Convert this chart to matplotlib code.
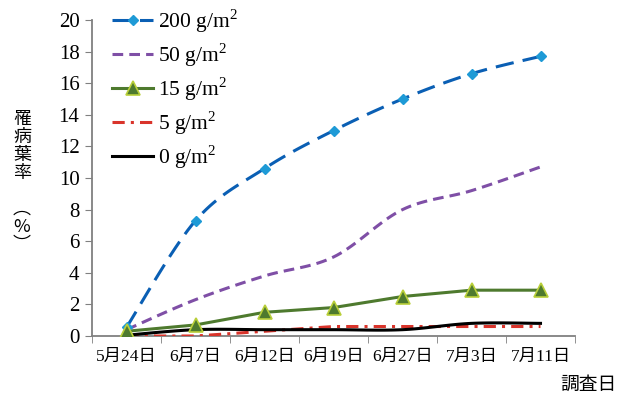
import numpy as np
import matplotlib
matplotlib.use("Agg")
import matplotlib.pyplot as plt
from matplotlib.lines import Line2D

plt.rcParams['font.family'] = ['Liberation Serif', 'Noto Sans CJK JP', 'DejaVu Sans']
plt.rcParams['mathtext.fontset'] = 'custom'
plt.rcParams['mathtext.rm'] = 'Liberation Serif'

dates = ['5月24日', '6月7日', '6月12日', '6月19日', '6月27日', '7月3日', '7月11日']
rate_200 = [0.55, 7.3, 10.6, 13.0, 15.0, 16.6, 17.7]
rate_50 = [0.4, 2.3, 3.8, 5.0, 8.0, 9.2, 10.7]
rate_15 = [0.3, 0.7, 1.5, 1.8, 2.5, 2.9, 2.9]
rate_5 = [0.0, 0.0, 0.3, 0.6, 0.6, 0.6, 0.6]
rate_0 = [0.05, 0.4, 0.4, 0.4, 0.4, 0.8, 0.8]
yticks = list(range(0, 21, 2))


def smooth(x, y, n=20):
    """Catmull-Rom style smoothed path through the points."""
    x = np.asarray(x, float)
    y = np.asarray(y, float)
    px = np.concatenate([[x[0]], x, [x[-1]]])
    py = np.concatenate([[y[0]], y, [y[-1]]])
    xs, ys = [], []
    for i in range(1, len(px) - 2):
        p0, p1, p2, p3 = (np.array([px[j], py[j]]) for j in (i - 1, i, i + 1, i + 2))
        c1 = p1 + (p2 - p0) / 6
        c2 = p2 - (p3 - p1) / 6
        t = np.linspace(0, 1, n)[:, None]
        pts = (1 - t) ** 3 * p1 + 3 * (1 - t) ** 2 * t * c1 + 3 * (1 - t) * t ** 2 * c2 + t ** 3 * p2
        xs.extend(pts[:, 0])
        ys.extend(pts[:, 1])
    return np.array(xs), np.array(ys)


fig = plt.figure(figsize=(6.28, 3.96), dpi=100)
ax = fig.add_axes([92 / 628, 60 / 396, (575 - 92) / 628, (336 - 20) / 396])

x = np.arange(len(dates))

series = [
    (rate_200, True, dict(color='#0a5fb4', lw=2.2, ls=(0, (6, 3))),
     dict(marker='D', ms=5, mfc='#1e9ad6', mec='#1e9ad6'), '200 g/m$^{2}$'),
    (rate_50, True, dict(color='#7f4fa6', lw=2.2, ls=(0, (3.5, 2))), None, '50 g/m$^{2}$'),
    (rate_15, False, dict(color='#4e7a2e', lw=2.2, ls='-'),
     dict(marker='^', ms=10, mfc='#4e7a2e', mec='#b9cf3a', mew=1.2), '15 g/m$^{2}$'),
    (rate_5, False, dict(color='#d9342b', lw=2.2, ls=(0, (4, 2, 1, 2))), None, '5 g/m$^{2}$'),
    (rate_0, True, dict(color='black', lw=2.2, ls='-'), None, '0 g/m$^{2}$'),
]

handles = []
for vals, curved, lstyle, mstyle, label in series:
    sx, sy = smooth(x, vals) if curved else (x, vals)
    ax.plot(sx, sy, zorder=3, **lstyle)
    if mstyle:
        ax.plot(x, vals, ls='none', zorder=4, **mstyle)
    h = Line2D([], [], **lstyle, **(mstyle or {}))
    handles.append((h, label))

ax.set_xlim(-0.5, len(dates) - 0.5)
ax.set_ylim(0, 20)
ax.set_yticks(yticks)
ax.set_yticklabels([str(v) for v in yticks], fontsize=15)
ax.set_xticks(x)
ax.set_xticklabels(dates, fontsize=12.5)
ax.set_xticks(np.arange(-0.5, len(dates)), minor=True)
ax.tick_params(axis='x', which='major', length=0, pad=9)
ax.tick_params(axis='x', which='minor', direction='out', length=5, color='#808080')
ax.tick_params(axis='y', direction='out', length=5, color='#808080', pad=4)

for side in ('top', 'right'):
    ax.spines[side].set_visible(False)
for side in ('left', 'bottom'):
    ax.spines[side].set_color('#808080')
    ax.spines[side].set_linewidth(1.3)

leg = ax.legend([h for h, _ in handles], [l for _, l in handles], loc='upper left',
                bbox_to_anchor=(0.024, 1.068), frameon=False, fontsize=15.5,
                handlelength=1.9, labelspacing=0.3, handletextpad=0.25, borderaxespad=0)

fig.text(22 / 628, 1 - 182 / 396, '罹\n病\n葉\n率\n\n︵\n%\n︶', ha='center', va='center',
         fontsize=13, linespacing=1.0, family=['Noto Sans CJK JP'])
fig.text(588 / 628, 1 - 384 / 396, '調査日', ha='center', va='center', fontsize=13.5,
         family=['Noto Sans CJK JP'])

fig.savefig('out.png', dpi=100)
